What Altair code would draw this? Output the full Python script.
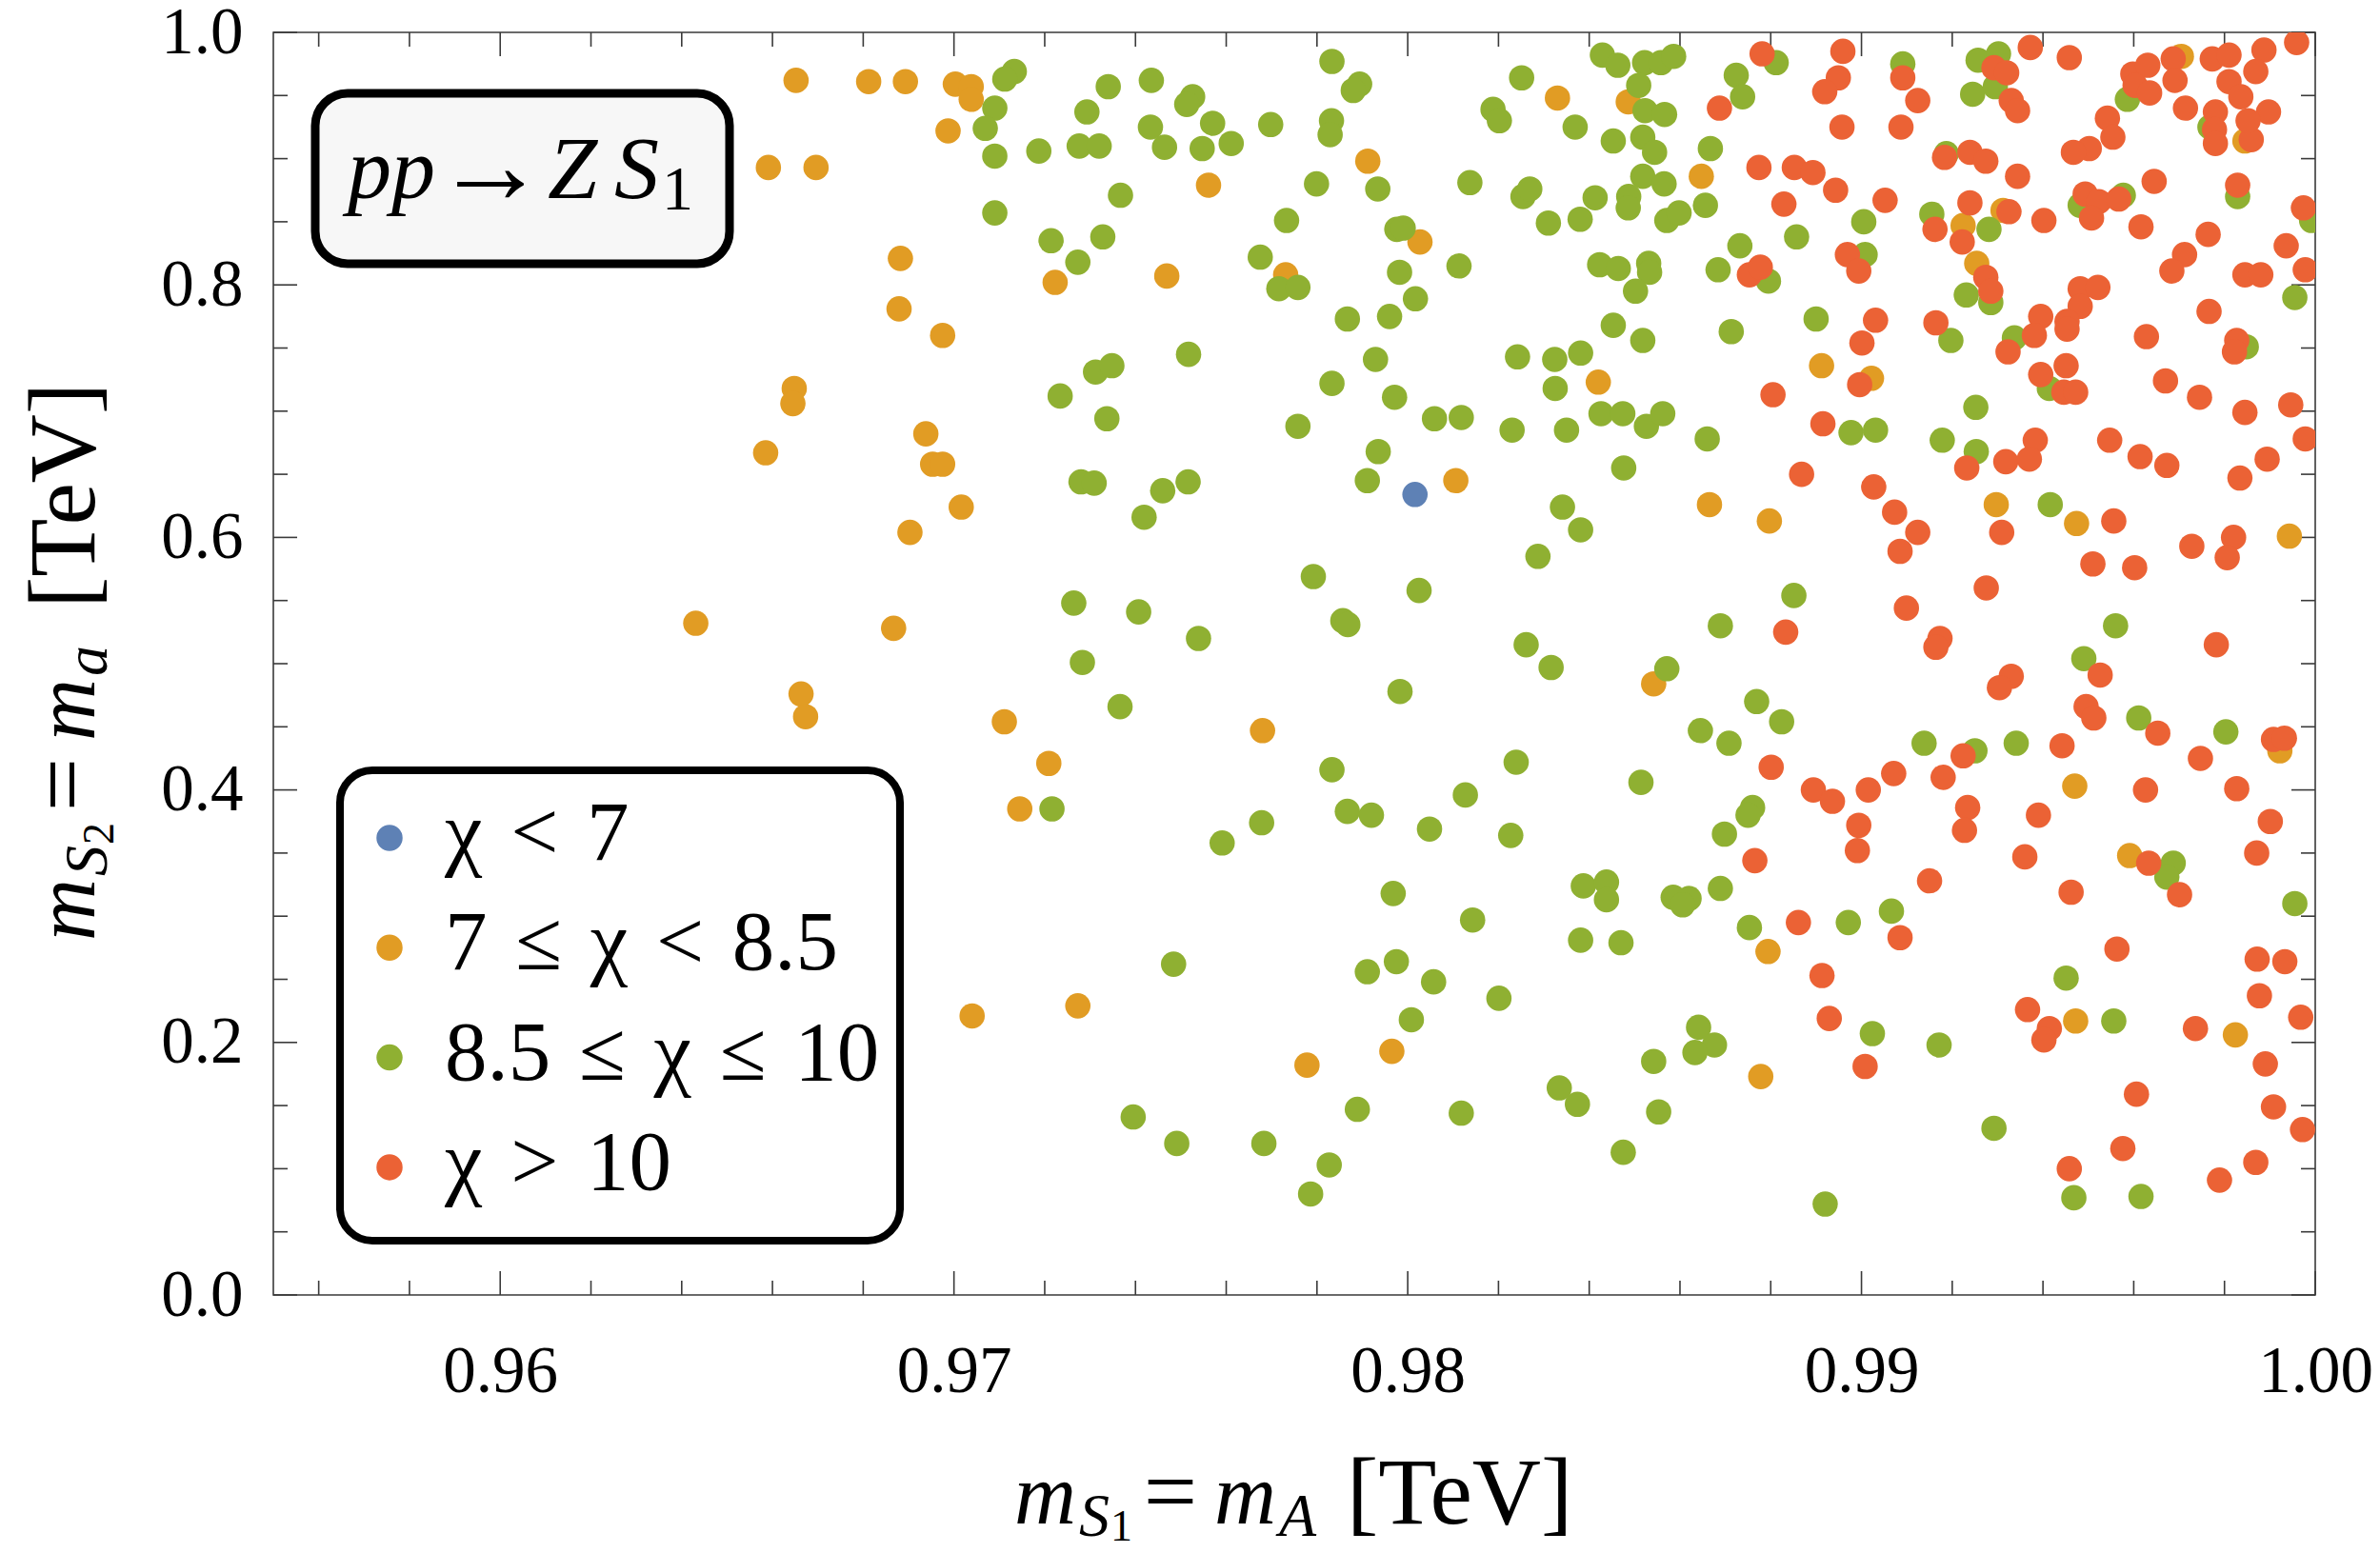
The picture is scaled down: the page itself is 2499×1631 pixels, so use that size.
import altair as alt
import pandas as pd

# ---------------------------------------------------------------
# Scan points: (m_S1 = m_A, m_S2 = m_a) in TeV, grouped by chi band
# ---------------------------------------------------------------
blue_x = [0.98016]
blue_y = [0.634]

orange_x = [0.96652, 0.96812, 0.96893, 0.96987, 0.96591, 0.96696, 0.96882, 0.96879, 0.96975,
            0.96648, 0.96645, 0.96938, 0.96585, 0.96953, 0.96975, 0.96903, 0.96431, 0.96867,
            0.96663, 0.96673,
            0.97003, 0.97038, 0.97038, 0.97912, 0.97561, 0.97223, 0.97469, 0.97731,
            0.98330, 0.98486, 0.98647, 0.98027, 0.98420, 0.98912,
            0.99022, 0.99705, 0.99845, 0.99312, 0.99224, 0.99254,
            0.97016, 0.97111, 0.97209, 0.97145, 0.97680,
            0.98106, 0.98665, 0.98797, 0.98542,
            0.99297, 0.99474, 0.99943, 0.99470, 0.99591, 0.99922,
            0.97040, 0.97273, 0.97778, 0.97965,
            0.98794, 0.98778,
            0.99472, 0.99824]
orange_y = [0.962, 0.961, 0.961, 0.922, 0.893, 0.893, 0.821, 0.781, 0.760,
            0.718, 0.706, 0.682, 0.667, 0.658, 0.658, 0.604, 0.532, 0.528,
            0.476, 0.458,
            0.959, 0.957, 0.947, 0.898, 0.879, 0.802, 0.807, 0.808,
            0.948, 0.945, 0.886, 0.834, 0.723, 0.736,
            0.726, 0.981, 0.914, 0.859, 0.847, 0.817,
            0.624, 0.454, 0.421, 0.385, 0.447,
            0.645, 0.626, 0.613, 0.484,
            0.626, 0.611, 0.601, 0.403, 0.348, 0.431,
            0.221, 0.229, 0.182, 0.193,
            0.272, 0.173,
            0.217, 0.206]

green_x = [0.97133, 0.97112, 0.97090, 0.97069, 0.97090, 0.97187, 0.97293, 0.97340, 0.97276, 0.97320,
           0.97435, 0.97433, 0.97464, 0.97526, 0.97513, 0.97570, 0.97547, 0.97611, 0.97698, 0.97833,
           0.97894, 0.97880, 0.97832, 0.97829, 0.97799, 0.97934, 0.97367, 0.97090, 0.97214, 0.97328,
           0.97273, 0.97733, 0.97675, 0.97716, 0.97758, 0.97867, 0.97960, 0.97976, 0.97990, 0.97982,
           0.97517, 0.97312, 0.97348, 0.97234, 0.97337, 0.97833, 0.97929, 0.97971, 0.97758, 0.97935,
           0.98429, 0.98463, 0.98522, 0.98558, 0.98586, 0.98509, 0.98251, 0.98188, 0.98202, 0.98369,
           0.98453, 0.98523, 0.98566, 0.98518, 0.98544, 0.98518, 0.98565, 0.98487, 0.98486, 0.98413,
           0.98380, 0.98310, 0.98254, 0.98269, 0.98137, 0.98571, 0.98598, 0.98656, 0.98667, 0.98724,
           0.98738, 0.98812, 0.98017, 0.99005, 0.99008, 0.98113, 0.98423, 0.98464, 0.98531, 0.98533,
           0.98502, 0.98732, 0.98684, 0.98795, 0.98857, 0.98900, 0.98713, 0.98453, 0.98518, 0.98242,
           0.98324, 0.98381, 0.98325, 0.98059, 0.98118, 0.98230, 0.98350, 0.98426, 0.98474, 0.98526,
           0.98562, 0.98660, 0.98977,
           0.99091, 0.99257, 0.99302, 0.99245, 0.99295, 0.99586, 0.99768, 0.99187, 0.99577, 0.99482,
           0.99829, 0.99155, 0.99281, 0.99992, 0.99231, 0.99285, 0.99955, 0.99197, 0.99337, 0.99848,
           0.99414, 0.99252, 0.99031, 0.99178, 0.99253,
           0.97280, 0.97309, 0.97460, 0.97516, 0.97419, 0.97911, 0.97792, 0.97264, 0.97407, 0.97539,
           0.97283, 0.97857, 0.97868, 0.97366, 0.97983, 0.97216, 0.97833, 0.97678, 0.97591, 0.97867,
           0.97920,
           0.98476, 0.98341, 0.98381, 0.98287, 0.98025, 0.98851, 0.98689, 0.98261, 0.98316, 0.98571,
           0.98769, 0.98824, 0.98645, 0.98708, 0.98239, 0.98514, 0.98127, 0.98048, 0.98227, 0.98760,
           0.98750, 0.98698,
           0.99416, 0.99560, 0.99490, 0.99611, 0.99803, 0.99138, 0.99250, 0.99341, 0.99687, 0.99673,
           0.97968, 0.97484, 0.97911, 0.97975, 0.97395, 0.97491, 0.97683, 0.97827, 0.97786, 0.97889,
           0.98387, 0.98438, 0.98438, 0.98585, 0.98620, 0.98606, 0.98689, 0.98753, 0.98971, 0.98143,
           0.98057, 0.98201, 0.98008, 0.98381, 0.98470, 0.98641, 0.98676, 0.98633, 0.98542, 0.98334,
           0.98374, 0.98553, 0.98118, 0.98475, 0.98920,
           0.99066, 0.99955, 0.99451, 0.99556, 0.99024, 0.99171, 0.99292, 0.99468, 0.99616]
green_y = [0.969, 0.963, 0.940, 0.924, 0.902, 0.906, 0.937, 0.957, 0.910, 0.910,
           0.962, 0.925, 0.909, 0.949, 0.943, 0.928, 0.908, 0.912, 0.927, 0.977,
           0.959, 0.954, 0.930, 0.919, 0.880, 0.876, 0.871, 0.857, 0.835, 0.838,
           0.818, 0.851, 0.822, 0.797, 0.798, 0.773, 0.775, 0.844, 0.845, 0.810,
           0.745, 0.731, 0.736, 0.712, 0.694, 0.722, 0.741, 0.711, 0.688, 0.668,
           0.982, 0.974, 0.976, 0.976, 0.981, 0.958, 0.964, 0.939, 0.930, 0.925,
           0.914, 0.938, 0.935, 0.917, 0.905, 0.886, 0.880, 0.870, 0.861, 0.869,
           0.852, 0.849, 0.870, 0.876, 0.881, 0.851, 0.857, 0.863, 0.908, 0.966,
           0.949, 0.976, 0.789, 0.850, 0.824, 0.815, 0.816, 0.813, 0.817, 0.810,
           0.795, 0.831, 0.812, 0.803, 0.838, 0.773, 0.763, 0.768, 0.756, 0.743,
           0.741, 0.746, 0.718, 0.694, 0.695, 0.685, 0.685, 0.698, 0.698, 0.688,
           0.698, 0.678, 0.683,
           0.975, 0.978, 0.983, 0.951, 0.957, 0.947, 0.925, 0.904, 0.871, 0.863,
           0.870, 0.856, 0.844, 0.851, 0.792, 0.786, 0.790, 0.756, 0.758, 0.751,
           0.718, 0.703, 0.685, 0.677, 0.668,
           0.644, 0.643, 0.637, 0.644, 0.616, 0.645, 0.569, 0.548, 0.541, 0.520,
           0.501, 0.534, 0.531, 0.466, 0.478, 0.385, 0.416, 0.374, 0.358, 0.383,
           0.380,
           0.655, 0.624, 0.606, 0.585, 0.558, 0.554, 0.530, 0.515, 0.497, 0.496,
           0.470, 0.454, 0.447, 0.437, 0.422, 0.406, 0.396, 0.369, 0.364, 0.386,
           0.380, 0.365,
           0.626, 0.530, 0.504, 0.457, 0.446, 0.437, 0.431, 0.437, 0.342, 0.331,
           0.318, 0.262, 0.256, 0.264, 0.141, 0.120, 0.120, 0.103, 0.080, 0.147,
           0.324, 0.327, 0.313, 0.315, 0.314, 0.309, 0.322, 0.291, 0.295, 0.297,
           0.248, 0.235, 0.218, 0.281, 0.279, 0.212, 0.198, 0.192, 0.185, 0.164,
           0.151, 0.145, 0.144, 0.113, 0.072,
           0.304, 0.310, 0.251, 0.217, 0.207, 0.198, 0.132, 0.077, 0.078]

red_x = [0.98781, 0.98959, 0.98949, 0.98919, 0.98957, 0.98687, 0.98774, 0.98852, 0.98893, 0.98943,
         0.98829, 0.98969, 0.98994, 0.98753, 0.98777, 0.99001, 0.98996, 0.98805, 0.98915,
         0.99372, 0.99458, 0.99091, 0.99124, 0.99087, 0.99292, 0.99320, 0.99330, 0.99344, 0.99598,
         0.99631, 0.99603, 0.99635, 0.99687, 0.99691, 0.99714, 0.99542, 0.99554, 0.99502, 0.99467,
         0.99773, 0.99810, 0.99887, 0.99869, 0.99959, 0.99810, 0.99836, 0.99780, 0.99897, 0.99778,
         0.99780, 0.99859, 0.99852, 0.99183, 0.99239, 0.99274, 0.99344, 0.99052, 0.99239, 0.99325,
         0.99402, 0.99493, 0.99523, 0.99507, 0.99567, 0.99645, 0.99616, 0.99829, 0.99974, 0.99162,
         0.99222, 0.99764, 0.99712, 0.99684, 0.99936, 0.99845, 0.99880, 0.99978, 0.99274, 0.99285,
         0.99031, 0.99164, 0.99766, 0.99395, 0.99482, 0.99521, 0.99482, 0.99453, 0.99453, 0.99381,
         0.99323, 0.99628, 0.99827, 0.99822, 0.99451, 0.99395, 0.99446, 0.99472, 0.99670, 0.99745,
         0.99845, 0.99946, 0.99978, 0.99383, 0.99547,
         0.98868, 0.98833, 0.98801, 0.98894, 0.98936, 0.98994, 0.98991, 0.98765,
         0.99232, 0.99318, 0.99370, 0.99614, 0.99673, 0.99894, 0.99834, 0.99027, 0.99073, 0.99124,
         0.99085, 0.99309, 0.99556, 0.99510, 0.99602, 0.99728, 0.99820, 0.99806, 0.99275, 0.99099,
         0.99173, 0.99164, 0.99330, 0.99304, 0.99782, 0.99526, 0.99495, 0.99512, 0.99653, 0.99908,
         0.99932, 0.99442, 0.99747, 0.99224, 0.99071, 0.99180, 0.99015, 0.99234, 0.99227, 0.99390,
         0.99626, 0.99827, 0.99901, 0.99871, 0.99360, 0.99633,
         0.98861, 0.98913, 0.98929, 0.99008,
         0.99150, 0.99462, 0.99701, 0.99085, 0.99563, 0.99872, 0.99933, 0.99877, 0.99968, 0.99366,
         0.99414, 0.99402, 0.99736, 0.99890, 0.99606, 0.99908, 0.99972, 0.99576, 0.99458, 0.99789,
         0.99869]
red_y = [0.983, 0.985, 0.964, 0.953, 0.925, 0.940, 0.893, 0.893, 0.889, 0.875,
         0.864, 0.824, 0.811, 0.808, 0.814, 0.754, 0.721, 0.713, 0.690,
         0.988, 0.980, 0.964, 0.946, 0.925, 0.972, 0.968, 0.946, 0.938, 0.967,
         0.974, 0.958, 0.952, 0.979, 0.962, 0.940, 0.932, 0.917, 0.908, 0.905,
         0.979, 0.982, 0.986, 0.969, 0.992, 0.961, 0.949, 0.937, 0.937, 0.923,
         0.912, 0.915, 0.930, 0.901, 0.905, 0.898, 0.886, 0.867, 0.865, 0.858,
         0.851, 0.872, 0.866, 0.853, 0.868, 0.882, 0.846, 0.879, 0.861, 0.844,
         0.834, 0.840, 0.824, 0.811, 0.831, 0.808, 0.808, 0.812, 0.806, 0.795,
         0.772, 0.770, 0.779, 0.775, 0.797, 0.798, 0.783, 0.771, 0.765, 0.760,
         0.747, 0.759, 0.756, 0.747, 0.736, 0.729, 0.715, 0.715, 0.724, 0.711,
         0.699, 0.705, 0.678, 0.677, 0.677,
         0.650, 0.525, 0.418, 0.400, 0.391, 0.372, 0.352, 0.344,
         0.655, 0.660, 0.662, 0.664, 0.657, 0.662, 0.647, 0.640, 0.620, 0.604,
         0.589, 0.604, 0.613, 0.579, 0.576, 0.593, 0.600, 0.584, 0.560, 0.544,
         0.520, 0.513, 0.490, 0.481, 0.515, 0.491, 0.466, 0.457, 0.445, 0.440,
         0.441, 0.435, 0.425, 0.427, 0.413, 0.410, 0.400, 0.386, 0.368, 0.380,
         0.400, 0.401, 0.375, 0.350, 0.347, 0.342,
         0.295, 0.253, 0.219, 0.181,
         0.328, 0.319, 0.317, 0.283, 0.274, 0.266, 0.264, 0.237, 0.220, 0.226,
         0.211, 0.202, 0.211, 0.183, 0.159, 0.149, 0.131, 0.116, 0.100, 0.091,
         0.105]

# legend text, one entry per chi band (top to bottom)
legend_labels = ["\u03c7 < 7", "7 \u2264 \u03c7 < 8.5", "8.5 \u2264 \u03c7 \u2264 10", "\u03c7 > 10"]

# axis ticks
x_major = [0.96, 0.97, 0.98, 0.99, 1.00]
x_minor = [0.956, 0.958, 0.962, 0.964, 0.966, 0.968, 0.972, 0.974, 0.976, 0.978,
           0.982, 0.984, 0.986, 0.988, 0.992, 0.994, 0.996, 0.998]
y_major = [0.0, 0.2, 0.4, 0.6, 0.8, 1.0]
y_minor = [0.05, 0.1, 0.15, 0.25, 0.3, 0.35, 0.45, 0.5, 0.55, 0.65, 0.7, 0.75, 0.85, 0.9, 0.95]

# ---------------------------------------------------------------
# styling
# ---------------------------------------------------------------
BLUE, ORANGE, GREEN, RED = "#5E81B5", "#E19C24", "#8FB032", "#EB6235"
FONT = "Liberation Serif"
INK = "#3a3a3a"
W, H = 2144, 1326
POINT_SIZE = 707

xscale = alt.Scale(domain=[0.955, 1.0], nice=False, zero=False)
yscale = alt.Scale(domain=[0.0, 1.0], nice=False, zero=False)
xaxis = alt.Axis(values=x_major, format=".2f", labelFont=FONT, labelFontSize=69,
                 labelColor="black", labelPadding=46, labelFlush=False, ticks=False,
                 domain=False, grid=False, title="")
yaxis = alt.Axis(values=y_major, format=".1f", labelFont=FONT, labelFontSize=69,
                 labelColor="black", labelPadding=32, labelFlush=False, ticks=False,
                 domain=False, grid=False, title="")

one_row = alt.Data(values=[{"k": 0}])


def series(xs, ys, color):
    df = pd.DataFrame({"x": xs, "y": ys})
    return alt.Chart(df).mark_circle(size=POINT_SIZE, color=color, opacity=1, clip=True).encode(
        x=alt.X("x:Q", scale=xscale, axis=xaxis),
        y=alt.Y("y:Q", scale=yscale, axis=yaxis),
    )


def x_ticks(vals, length):
    df = pd.DataFrame({"x": vals})
    base = alt.Chart(df).mark_rule(color=INK, strokeWidth=1.6)
    top = base.encode(x=alt.X("x:Q", scale=xscale, axis=xaxis), y=alt.value(0), y2=alt.value(length))
    bot = base.encode(x=alt.X("x:Q", scale=xscale, axis=xaxis), y=alt.value(H), y2=alt.value(H - length))
    return [top, bot]


def y_ticks(vals, length):
    df = pd.DataFrame({"y": vals})
    base = alt.Chart(df).mark_rule(color=INK, strokeWidth=1.6)
    left = base.encode(y=alt.Y("y:Q", scale=yscale, axis=yaxis), x=alt.value(0), x2=alt.value(length))
    right = base.encode(y=alt.Y("y:Q", scale=yscale, axis=yaxis), x=alt.value(W), x2=alt.value(W - length))
    return [left, right]


def label(text, x, y, size, italic=False, angle=0, align="left"):
    kw = dict(text=text, font=FONT, fontSize=size, color="black", align=align, baseline="alphabetic")
    if italic:
        kw["fontStyle"] = "italic"
    if angle:
        kw["angle"] = angle
    return alt.Chart(one_row).mark_text(**kw).encode(x=alt.value(x), y=alt.value(y))


layers = []
layers += x_ticks(x_major, 25) + x_ticks(x_minor, 15)
layers += y_ticks(y_major, 25) + y_ticks(y_minor, 15)

# scatter, drawn low band first so the high-chi points sit on top
layers += [series(orange_x, orange_y, ORANGE), series(blue_x, blue_y, BLUE),
           series(green_x, green_y, GREEN), series(red_x, red_y, RED)]

# process label box
layers.append(alt.Chart(one_row).mark_rect(cornerRadius=34, fill="#f7f7f7", stroke="black",
                                           strokeWidth=9).encode(
    x=alt.value(44), x2=alt.value(479), y=alt.value(64), y2=alt.value(243)))
layers += [label("pp", 78, 174, 92, italic=True),
           label("\u2192", 228, 179, 118, align="center"),
           label("Z", 288, 174, 94, italic=True),
           label("S", 358, 174, 94, italic=True),
           label("1", 408, 186, 66)]

# legend box
layers.append(alt.Chart(one_row).mark_rect(cornerRadius=34, fill="white", stroke="black",
                                           strokeWidth=8).encode(
    x=alt.value(70), x2=alt.value(658), y=alt.value(775), y2=alt.value(1269)))
for i, (txt, col) in enumerate(zip(legend_labels, [BLUE, ORANGE, GREEN, RED])):
    cy = 846 + 115.3 * i
    layers.append(alt.Chart(one_row).mark_circle(size=755, color=col, opacity=1).encode(
        x=alt.value(122), y=alt.value(cy)))
    layers.append(label(txt.replace(" ", "\u2004"), 180, cy + 23, 89))

# x-axis title: m_{S_1} = m_A  [TeV]
xb, x0 = 1566, 778
layers += [label("m", x0, xb, 90, italic=True),
           label("S", x0 + 68, xb + 13, 64, italic=True),
           label("1", x0 + 101, xb + 18, 46),
           label("=", x0 + 164, xb, 100, align="center"),
           label("m", x0 + 210, xb, 90, italic=True),
           label("A", x0 + 278, xb + 13, 64, italic=True),
           label("[TeV]", x0 + 349, xb, 100)]

# y-axis title: m_{S_2} = m_a  [TeV], rotated to read upwards
yb, y0 = -188, 954
layers += [label("m", yb, y0, 90, italic=True, angle=270),
           label("S", yb + 13, y0 - 68, 64, italic=True, angle=270),
           label("2", yb + 20, y0 - 101, 46, angle=270),
           label("=", yb, y0 - 164, 100, angle=270, align="center"),
           label("m", yb, y0 - 210, 90, italic=True, angle=270),
           label("a", yb + 13, y0 - 278, 64, italic=True, angle=270),
           label("[TeV]", yb, y0 - 349, 100, angle=270)]

chart = alt.layer(*layers).properties(
    width=W, height=H,
    autosize=alt.AutoSizeParams(type="none"),
    padding={"left": 287, "top": 34, "right": 68, "bottom": 271},
    background="white",
).configure_view(stroke=INK, strokeWidth=1.6)

chart.save("out.html", embed_options={"renderer": "svg", "actions": False})
